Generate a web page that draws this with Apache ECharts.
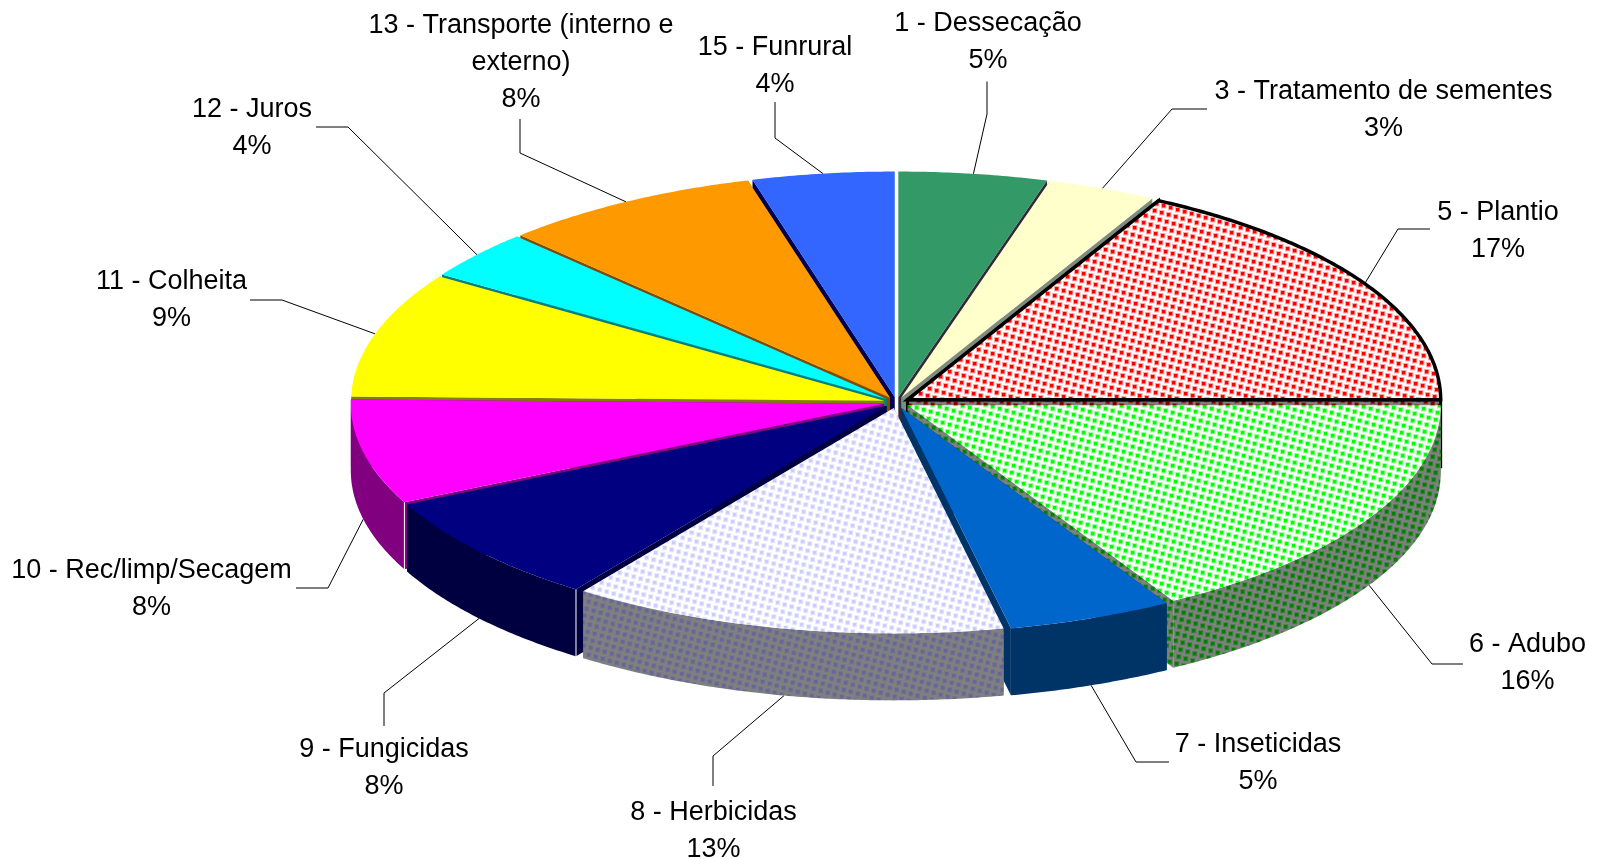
<!DOCTYPE html>
<html>
<head>
<meta charset="utf-8">
<style>html,body{margin:0;padding:0;background:#fff}#c{width:1598px;height:859px}</style>
<script src="https://cdn.jsdelivr.net/npm/echarts@6/dist/echarts.min.js"></script>
</head>
<body>
<div id="c"></div>
<script>
// ---- data ----
const categories = ['1 - Dessecação','3 - Tratamento de sementes','5 - Plantio','6 - Adubo','7 - Inseticidas','8 - Herbicidas','9 - Fungicidas','10 - Rec/limp/Secagem','11 - Colheita','12 - Juros','13 - Transporte (interno e\nexterno)','15 - Funrural'];
const sliceShares = [4.5,3.3,17.2,16.7,5.0,13.2,7.9,7.5,9.0,3.5,7.9,4.3];
const percentLabels = ['5%','3%','17%','16%','5%','13%','8%','8%','9%','4%','8%','4%'];

// ---- styles ----
const topColors  = ['#339966','#FFFFCC','#FF0000','#00FF00','#0066CC','#CCCCFF','#000080','#FF00FF','#FFFF00','#00FFFF','#FF9900','#3366FF'];
const sideColors = ['#33293a','#7f8a80','#800000','#008000','#003366','#666699','#000040','#800080','#808000','#008080','#804D00','#000050'];
const patterned  = [false,false,true,true,false,true,false,false,false,false,false,false];

// ---- layout (pie geometry, label centres, leader end and elbow) ----
const CX = 896.5, CY = 402.5, RX = 533, RY = 225.5, DEPTH = 67, EXPLODE = 13;
const labelCenters = [[988,42],[1383.5,110.5],[1498,231],[1527.5,663],[1258,763],[713.5,831],[384,768.5],[151.5,589],[171.5,300],[252,128.5],[521,62.5],[775,66.5]];
const leaderEnds   = [[987,81.5],[1207,109],[1430,229],[1463,664],[1169,762],[713,786],[384,726],[296,588],[250,300],[316,127],[520,119],[775,102]];
const leaderElbows = [[987,114],[1172,109],[1398,229],[1432,664],[1136,762],[713,756],[384,693],[328,588],[282,300],[348,127],[520,153],[775,138]];

// ---- helpers ----
const total = sliceShares.reduce((a,b)=>a+b,0);
const toAngle = s => s/total*360;
const slices = [];
(function(){ let acc=0; sliceShares.forEach(v=>{ const a0=toAngle(acc); acc+=v; const a1=toAngle(acc); slices.push({a0,a1,mid:(a0+a1)/2}); }); })();
const rad = d => d*Math.PI/180;
function offset(s){ return [CX+EXPLODE*Math.sin(rad(s.mid)), CY-EXPLODE*(RY/RX)*Math.cos(rad(s.mid))]; }
function pt(c,a,dy){ return [c[0]+RX*Math.sin(rad(a)), c[1]-RY*Math.cos(rad(a))+(dy||0)]; }
function arc(c,a0,a1,dy){ const out=[]; const n=Math.max(2,Math.ceil((a1-a0)/0.5)); for(let i=0;i<=n;i++) out.push(pt(c,a0+(a1-a0)*i/n,dy)); return out; }

function tile(bg,fg){
  const T=53, c=document.createElement('canvas'); c.width=c.height=T;
  const g=c.getContext('2d'); g.fillStyle=bg; g.fillRect(0,0,T,T); g.fillStyle=fg;
  const dots=[];
  for(let a=0;a<T;a++) dots.push([(a*7)%T,(a*2)%T]);
  // halo then core; wrapped copies keep the tile seamless
  [[5.4,0.35,0],[3.4,1,1]].forEach(([size,alpha,inset])=>{
    g.globalAlpha=alpha;
    dots.forEach(d=>{
      [-T,0,T].forEach(ox=>[-T,0,T].forEach(oy=>g.fillRect(d[0]+ox+inset,d[1]+oy+inset,size,size)));
    });
  });
  g.globalAlpha=1;
  return {image:c,repeat:'repeat'};
}
const topFill  = topColors.map((c,i)=>patterned[i]?tile('#FFFFFF',c):c);
const sideFill = sideColors.map((c,i)=>patterned[i]?tile('#808080',c):c);

// back-to-front drawing order
const drawOrder = slices.map((s,i)=>i).sort((a,b)=>Math.cos(rad(slices[b].mid))-Math.cos(rad(slices[a].mid)));

function renderSlice(params){
  const i = drawOrder[params.dataIndex], s = slices[i], c = offset(s);
  const isPlantio = categories[i].indexOf('Plantio')>=0;
  const wallStroke = isPlantio?{stroke:'#000',lineWidth:3}:{};
  const kids=[];
  [s.a0,s.a1].forEach(a=>{
    const p=pt(c,a);
    kids.push({type:'polygon',shape:{points:[c,p,[p[0],p[1]+DEPTH],[c[0],c[1]+DEPTH]]},style:Object.assign({fill:sideFill[i]},wallStroke)});
  });
  const w0=Math.max(s.a0,90), w1=Math.min(s.a1,270);
  if(w1>w0){
    const pts=arc(c,w0,w1,0).concat(arc(c,w0,w1,DEPTH).reverse());
    kids.push({type:'polygon',shape:{points:pts},style:{fill:sideFill[i]}});
  }
  if(s.a0>180 && s.a0<270){
    const p=pt(c,s.a0);
    kids.push({type:'line',shape:{x1:p[0],y1:p[1],x2:p[0],y2:p[1]+DEPTH},style:{stroke:'#fff',lineWidth:1}});
  }
  kids.push({type:'polygon',shape:{points:[c].concat(arc(c,s.a0,s.a1,0))},
    style:Object.assign({fill:topFill[i]},isPlantio?{stroke:'#000',lineWidth:3.5,lineJoin:'miter'}:{})});
  return {type:'group',children:kids};
}

function renderLabel(params){
  const i=params.dataIndex, s=slices[i], c=offset(s);
  const front = s.mid>90 && s.mid<270;
  const a = pt(c,s.mid,front?DEPTH:0);
  return {type:'group',children:[
    {type:'polyline',shape:{points:[leaderEnds[i],leaderElbows[i],a]},style:{stroke:'#000',lineWidth:1,fill:null}},
    {type:'text',style:{text:categories[i]+'\n'+percentLabels[i],x:labelCenters[i][0],y:labelCenters[i][1],
      align:'center',verticalAlign:'middle',fontFamily:'"Liberation Sans",Arial,sans-serif',fontSize:27,lineHeight:37,fill:'#000'}}
  ]};
}

const chart = echarts.init(document.getElementById('c'),null,{renderer:'canvas'});
chart.setOption({
  animation:false,
  backgroundColor:'#fff',
  series:[
    {type:'custom',coordinateSystem:'none',silent:true,z:1,data:categories.map((n,i)=>[i]),renderItem:renderLabel},
    {type:'custom',coordinateSystem:'none',silent:true,z:2,data:drawOrder.map(i=>[sliceShares[i]]),renderItem:renderSlice}
  ]
});
</script>
</body>
</html>
